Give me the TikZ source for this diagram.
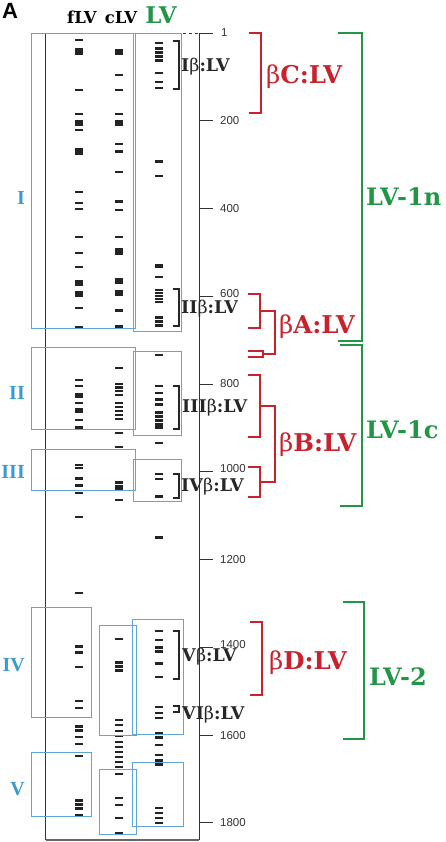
\documentclass[tikz,border=0pt]{standalone}
\usepackage{fontspec}
\setmainfont{DejaVu Serif}
\newfontfamily\axisfont{Liberation Sans}
\newfontfamily\romanfont{Liberation Serif}
\definecolor{boxblue}{RGB}{95,165,215}
\definecolor{lblblue}{RGB}{55,155,210}
\definecolor{betared}{RGB}{200,35,45}
\definecolor{lvgreen}{RGB}{35,150,70}
\definecolor{bandgray}{RGB}{35,35,35}
\newcommand{\sublabel}[1]{\textbf{#1}β\textbf{:LV}}

\begin{document}
\begin{tikzpicture}[x=1pt, y=-1pt,
    lanebox/.style={draw=boxblue, line width=0.9pt},
    gelband/.style={fill=bandgray},
    subbr/.style={draw=black!85, line width=1.1pt},
    betabr/.style={draw=betared, line width=1.2pt},
    grpbr/.style={draw=lvgreen, line width=2.6pt},
    sublbl/.style={anchor=west, inner sep=0pt, text=black!85, font=\fontsize{17.5}{17.5}\selectfont},
    betalbl/.style={anchor=west, inner sep=0pt, text=betared, font=\fontsize{24.5}{24.5}\selectfont},
    grplbl/.style={anchor=west, inner sep=0pt, text=lvgreen, font=\fontsize{24}{24}\selectfont\bfseries},
    roman/.style={anchor=east, inner sep=0pt, text=lblblue, font=\romanfont\fontsize{20}{20}\selectfont\bfseries},
    ticklbl/.style={anchor=west, inner sep=0pt, text=black!80, font=\axisfont\fontsize{11.5}{12}\selectfont}]
\useasboundingbox (0,0) rectangle (445,842);

% panel letter and lane headers
\node[anchor=north west, inner sep=0pt, font=\axisfont\fontsize{22}{22}\selectfont\bfseries] (pA) at (2,3) {A};
\node[anchor=base, inner sep=0pt, font=\fontsize{16.5}{16.5}\selectfont\bfseries] (hf) at (82,24) {fLV};
\node[anchor=base, inner sep=0pt, font=\fontsize{16.5}{16.5}\selectfont\bfseries] (hc) at (121,24) {cLV};
\node[anchor=base, inner sep=0pt, text=lvgreen, font=\fontsize{23}{23}\selectfont\bfseries] (hl) at (161,24) {LV};

% bands
\foreach \y/\h in {40/2.5, 52/7, 90/2.5, 114/2.5, 123/6, 130/2.5, 152/7, 192/2.5, 203/2.5, 209/2.5,
    237/2.5, 253/2.5, 267/2.5, 283/6, 294/6, 308/2.5, 327/3, 380/2.5, 386/2.5, 395/5, 403/2.5,
    410/5, 420/2.5, 427/3, 465/2.5, 468/2.5, 478/3, 485/3, 493/2.5, 517/2.5, 593/2.5, 646/3,
    652/3, 667/2.5, 701/2.5, 708/2.5, 726/3, 730/3, 737/2.5, 744/2.5, 756/2.5, 800/3, 804/3,
    808/3, 815/3}
  \fill[gelband] (75,\y-\h/2) rectangle ++(8,\h);
\foreach \y/\h in {52/6, 75/2.5, 90/2.5, 114/2.5, 123/6, 144/2, 152/3, 172/2.5, 202/3, 210/2.5,
    237/2.5, 251/7, 281/6, 293/6, 310/3, 326/3, 368/2.5, 384/2.5, 387.5/2.5, 391/2.5, 395/2.5,
    403/2.5, 407/2.5, 411/2.5, 415/2.5, 419/2.5, 433/2.5, 447/2.5, 482/3, 486/3, 489/3, 500/2.5,
    639/2.5, 662/3, 666/3, 670/3, 720/2.5, 725/2.5, 731/2.5, 736/2.5, 742/2.5, 747/2.5, 752/2.5,
    757/2.5, 762/2.5, 767/2.5, 774/2.5, 798/2.5, 805/2.5, 818/2.5, 833/3}
  \fill[gelband] (114.5,\y-\h/2) rectangle ++(8,\h);
\foreach \y/\h in {43/2.5, 49/3, 53/3, 57/3, 61/3, 73/2.5, 82/2.5, 88/2.5, 162/3, 176/2.5,
    266/4, 277/2.5, 290/2, 293/2, 296/2, 299/2, 302/2, 317/3, 321/3, 325/3, 355/2.5, 386/2.5,
    393/2.5, 399/3, 404/3, 412/3, 416/3, 420/3, 424/3, 427/3, 443/2.5, 474/2.5, 479/2.5, 496/3,
    537/3, 631/2.5, 640/2.5, 647/3, 651/3, 663/3, 677/2.5, 707/2.5, 713/2.5, 718/2.5, 733/3,
    737/3, 745/2.5, 755/2.5, 760/3, 764/3, 808/2.5, 813/2.5, 818/2.5, 823/2.5}
  \fill[gelband] (155,\y-\h/2) rectangle ++(8,\h);

% gel frame and scale
\draw[black!80, line width=0.9pt] (45,33) -- (45,839) -- (199,839) -- (199,33) -- (213,33);
\draw[black!60, line width=2pt] (46,840) -- (199,840);
\draw[black!80, dashed, line width=0.8pt] (45,33) -- (199,33);
\node[ticklbl] (t1) at (221,33) {1};
\foreach \v/\dy in {200/0, 400/0, 600/-3, 800/0, 1000/-3, 1200/0, 1400/-3, 1600/0, 1800/0} {
  \draw[black!80, line width=0.9pt] (199,{33+0.4388*\v}) -- ++(14,0);
  \node[ticklbl] (t\v) at (220,{33+0.4388*\v+\dy}) {\v};
}

% lane boxes
\draw[lanebox] (31,33) rectangle (135,328);
\draw[lanebox] (133,33) rectangle (181,331);
\draw[lanebox] (31,347) rectangle (135,429);
\draw[lanebox] (133,351) rectangle (181,435);
\draw[lanebox] (31,449) rectangle (135,490);
\draw[lanebox] (133,459) rectangle (181,501);
\draw[lanebox] (31,607) rectangle (91,717);
\draw[lanebox] (99,625) rectangle (136,735);
\draw[lanebox] (132,619) rectangle (183,734);
\draw[lanebox] (31,752) rectangle (91,816);
\draw[lanebox] (99,769) rectangle (136,834);
\draw[lanebox] (132,762) rectangle (183,826);

\node[roman] (rI) at (25,198) {I};
\node[roman] (rII) at (25,393) {II};
\node[roman] (rIII) at (25,472) {III};
\node[roman] (rIV) at (25,665) {IV};
\node[roman] (rV) at (25,789) {V};

% sub-family brackets
\draw[subbr] (173,41) -| (179,89) -- (173,89);
\draw[subbr] (173,289) -| (179,326) -- (173,326);
\draw[subbr] (173,386) -| (179,429) -- (173,429);
\draw[subbr] (173,474) -| (179,498) -- (173,498);
\draw[subbr] (173,631) -| (179,679) -- (173,679);
\draw[subbr] (173,706) -| (179,712) -- (173,712);
\node[sublbl] (sI) at (181,67) {\sublabel{I}};
\node[sublbl] (sII) at (181,309) {\sublabel{II}};
\node[sublbl] (sIII) at (182,408) {\sublabel{III}};
\node[sublbl] (sIV) at (181,487) {\sublabel{IV}};
\node[sublbl] (sV) at (182,657) {\sublabel{V}};
\node[sublbl] (sVI) at (182,715) {\sublabel{VI}};

% beta groups
\draw[betabr] (249,33) -| (261,113) -- (249,113);
\draw[betabr] (248,294) -| (260,328) -- (248,328);
\draw[betabr] (248,351) -| (263,357) -- (248,357);
\draw[betabr] (260,311) -| (275,354) -- (263,354);
\draw[betabr] (248,375) -| (260,437) -- (248,437);
\draw[betabr] (248,467) -| (260,497) -- (248,497);
\draw[betabr] (260,406) -| (275,482) -- (260,482);
\draw[betabr] (250,622) -| (262,695) -- (250,695);
\node[betalbl] (bC) at (266,77) {β\textbf{C:LV}};
\node[betalbl] (bA) at (279,327) {β\textbf{A:LV}};
\node[betalbl] (bB) at (279,445) {β\textbf{B:LV}};
\node[betalbl] (bD) at (269,663) {β\textbf{D:LV}};

% LV groups
\draw[grpbr] (338,33) -| (362,341) -- (338,341);
\draw[grpbr] (340,345) -| (362,506) -- (340,506);
\draw[grpbr] (343,602) -| (364,739) -- (343,739);
\node[grplbl] (g1n) at (366,197) {LV-1n};
\node[grplbl] (g1c) at (366,430) {LV-1c};
\node[grplbl] (g2) at (369,677) {LV-2};
\end{tikzpicture}
\end{document}
